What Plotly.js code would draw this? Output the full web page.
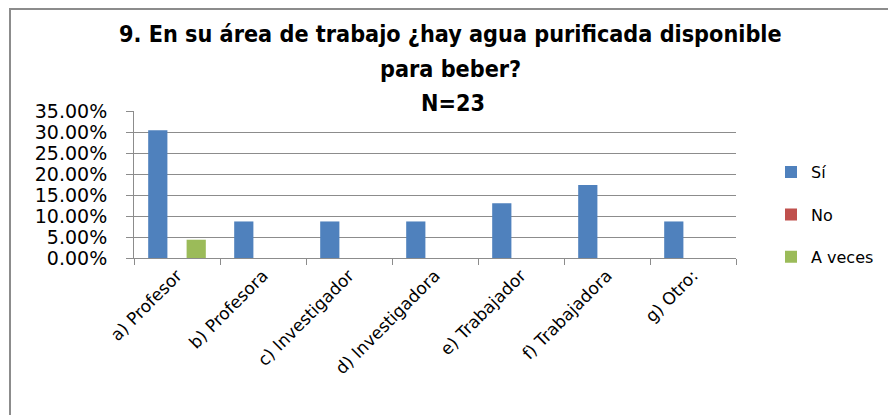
<!DOCTYPE html>
<html>
<head>
<meta charset="utf-8">
<script src="https://cdn.plot.ly/plotly-3.0.1.min.js"></script>
<style>
  html, body { margin: 0; padding: 0; background: #fff; }
  #wrap { position: relative; width: 888px; height: 415px; overflow: hidden; }
  #chart { width: 888px; height: 415px; }
  #frame { position: absolute; left: 9px; top: 8px; width: 900px; height: 430px;
           border-left: 2px solid #8c8c8c; border-top: 2px solid #8c8c8c; pointer-events: none; }
</style>
</head>
<body>
<div id="wrap">
  <div id="chart"></div>
  <div id="frame"></div>
</div>
<script>
const categories = ["a) Profesor", "b) Profesora", "c) Investigador", "d) Investigadora", "e) Trabajador", "f) Trabajadora", "g) Otro:"];
const si      = [0.3043, 0.0870, 0.0870, 0.0870, 0.1304, 0.1739, 0.0870];
const no      = [0, 0, 0, 0, 0, 0, 0];
const aVeces  = [0.0435, 0, 0, 0, 0, 0, 0];
const seriesNames = ["Sí", "No", "A veces"];
const titleLines = ["9. En su área de trabajo ¿hay agua purificada disponible", "para beber?", "N=23"];

const colors = ["#4F81BD", "#C0504D", "#9BBB59"];
const FONT = "DejaVu Sans, Verdana, sans-serif";
const TFONT = "DejaVu Sans Condensed, Liberation Sans Narrow, Liberation Sans, Arial, sans-serif";

const traces = [si, no, aVeces].map((vals, i) => ({
  type: "bar",
  x: categories,
  y: vals,
  name: seriesNames[i],
  legendgroup: "g" + i,
  marker: { color: colors[i] },
  hoverinfo: "x+y+name"
}));

const plotLeft = 134, plotRight = 736, plotW = plotRight - plotLeft;
const plotTop = 110.5, plotBottom = 258.5, plotH = plotBottom - plotTop;
const px = v => (v - plotLeft) / plotW;
const py = v => (plotBottom - v) / plotH;

const layout = {
  width: 888, height: 415,
  margin: { l: plotLeft, r: 888 - plotRight, t: plotTop, b: 415 - plotBottom, pad: 0, autoexpand: false },
  paper_bgcolor: "#ffffff",
  plot_bgcolor: "rgba(0,0,0,0)",
  barmode: "group",
  bargap: 0.33,
  bargroupgap: 0,
  showlegend: true,
  legend: {
    x: px(771), xanchor: "left",
    y: py(155), yanchor: "top",
    font: { family: FONT, size: 16, color: "#000" },
    tracegroupgap: 18.5,
    traceorder: "grouped",
    bgcolor: "rgba(0,0,0,0)"
  },
  xaxis: {
    type: "category",
    showline: true, linecolor: "#8c8c8c", linewidth: 1,
    ticks: "outside", ticklen: 6, tickcolor: "#8c8c8c",
    tickson: "boundaries",
    showgrid: false,
    tickangle: -45,
    tickfont: { family: FONT, size: 17, color: "#000" },
    fixedrange: true
  },
  yaxis: {
    range: [0, 0.35001],
    dtick: 0.05, tick0: 0,
    tickformat: ".2%",
    showline: true, linecolor: "#8c8c8c", linewidth: 1,
    ticks: "outside", ticklen: 7, tickcolor: "#8c8c8c",
    ticklabelstandoff: 15,
    showgrid: true, gridcolor: "#8c8c8c", gridwidth: 1,
    zeroline: false,
    tickfont: { family: FONT, size: 19, color: "#000" },
    fixedrange: true
  },
  annotations: [
    { text: "<b>" + titleLines[0] + "</b>", xref: "paper", yref: "paper", x: px(451), y: py(32), xanchor: "center", yanchor: "middle", showarrow: false, font: { family: TFONT, size: 23.2, color: "#000" } },
    { text: "<b>" + titleLines[1] + "</b>", xref: "paper", yref: "paper", x: px(451), y: py(68), xanchor: "center", yanchor: "middle", showarrow: false, font: { family: TFONT, size: 23.2, color: "#000" } },
    { text: "<b>" + titleLines[2] + "</b>", xref: "paper", yref: "paper", x: px(453), y: py(102), xanchor: "center", yanchor: "middle", showarrow: false, font: { family: TFONT, size: 23.2, color: "#000" } }
  ]
};

Plotly.newPlot("chart", traces, layout, { displayModeBar: false, staticPlot: false });
</script>
</body>
</html>
